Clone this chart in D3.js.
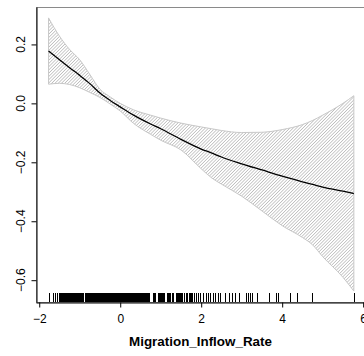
<!DOCTYPE html>
<html>
<head>
<meta charset="utf-8">
<script src="https://cdn.jsdelivr.net/npm/d3@7"></script>
<style>
body{margin:0;background:#fff;}
text{font-family:"Liberation Sans",Arial,Helvetica,sans-serif;}
</style>
</head>
<body>
<script>
// smooth term for Migration_Inflow_Rate: fit and upper/lower bands
var fit_x=[-1.77,-1.5,-1.25,-1.0,-0.75,-0.5,-0.25,0,0.33,0.75,1.0,1.5,2.0,2.25,2.5,3.0,3.5,4.0,4.5,4.75,5.0,5.5,5.77];
var fit_y=[0.178,0.148,0.121,0.095,0.067,0.035,0.010,-0.012,-0.040,-0.070,-0.086,-0.122,-0.155,-0.168,-0.182,-0.205,-0.226,-0.247,-0.266,-0.275,-0.284,-0.298,-0.306];
var upper=[0.290,0.228,0.183,0.148,0.098,0.048,0.022,0.000,-0.022,-0.040,-0.050,-0.067,-0.080,-0.086,-0.092,-0.099,-0.098,-0.089,-0.072,-0.058,-0.040,0.000,0.026];
var lower=[0.065,0.068,0.064,0.053,0.037,0.020,-0.002,-0.026,-0.068,-0.105,-0.125,-0.158,-0.222,-0.252,-0.274,-0.315,-0.365,-0.415,-0.455,-0.480,-0.520,-0.590,-0.637];

// observed values for the rug
var rug_x=[-1.77,-1.65,-1.60,-1.56,
-1.52,-1.50,-1.48,-1.46,-1.44,-1.42,-1.40,-1.38,-1.36,-1.34,-1.32,-1.30,-1.28,-1.26,-1.24,-1.22,-1.20,-1.18,-1.16,-1.14,-1.12,-1.10,-1.08,-1.06,-1.04,-1.02,-1.00,-0.98,-0.96,-0.94,-0.92,
-0.86,-0.84,-0.82,-0.80,-0.78,-0.76,-0.74,-0.72,-0.70,-0.68,-0.66,-0.64,-0.62,-0.60,-0.58,-0.56,-0.54,-0.52,-0.50,-0.48,-0.46,-0.44,-0.42,-0.40,-0.38,-0.36,-0.34,-0.32,-0.30,-0.28,-0.26,-0.24,-0.22,-0.20,-0.18,-0.16,-0.14,-0.12,-0.10,-0.08,-0.06,-0.04,-0.02,0.00,
0.02,0.04,0.06,0.08,0.10,0.12,0.14,0.16,0.18,0.20,0.22,0.24,0.26,0.28,0.30,0.32,0.34,0.36,0.38,0.40,0.42,0.44,0.46,0.48,0.50,0.52,0.54,0.56,0.58,0.60,0.62,0.64,0.66,0.68,0.70,0.72,
0.80,0.82,0.84,0.86,0.93,0.95,0.97,0.99,1.01,1.03,1.05,1.07,1.09,1.16,1.18,1.20,1.22,1.29,1.31,1.37,1.39,1.41,1.43,1.45,1.47,1.49,1.51,1.53,
1.57,1.62,1.65,1.69,1.72,1.75,
1.78,1.83,1.88,1.93,1.98,2.05,2.12,2.17,2.22,2.29,2.35,2.42,2.47,2.59,2.69,2.77,2.84,2.94,
3.11,3.16,3.20,3.26,3.38,3.68,3.85,3.90,4.20,4.37,4.74,5.77];

var x_ticks=[-2,0,2,4,6];
var x_tick_labels=["\u22122","0","2","4","6"];
var y_ticks=[-0.6,-0.4,-0.2,0.0,0.2];
var y_tick_labels=["\u22120.6","\u22120.4","\u22120.2","0.0","0.2"];
var x_title="Migration_Inflow_Rate";

var width=364,height=356;
var left=36,top_=7,right=366,bottom=302;

var svg=d3.select("body").append("svg").attr("width",width).attr("height",height);

var xscale=d3.scaleLinear().domain([-2.08,6.07]).range([left,right]);
var yscale=d3.scaleLinear().domain([-0.674,0.327]).range([bottom,top_]);

var defs=svg.append("defs");
var pat=defs.append("pattern").attr("id","hatch").attr("patternUnits","userSpaceOnUse")
	.attr("width",2.3).attr("height",2.3).attr("patternTransform","rotate(45)");
pat.append("line").attr("x1",1.15).attr("y1",0).attr("x2",1.15).attr("y2",2.3)
	.attr("stroke","#b8b8b8").attr("stroke-width",0.7);

var band=fit_x.map(function(d,i){return {x:d,f:fit_y[i],u:upper[i],l:lower[i]};});

// hatched confidence band
svg.append("path").datum(band)
	.attr("d",d3.area().curve(d3.curveMonotoneX).x(function(d){return xscale(d.x);}).y0(function(d){return yscale(d.l);}).y1(function(d){return yscale(d.u);}))
	.attr("fill","url(#hatch)").attr("stroke","#c8c8c8").attr("stroke-width",1);

// fitted smooth
svg.append("path").datum(band)
	.attr("d",d3.line().curve(d3.curveMonotoneX).x(function(d){return xscale(d.x);}).y(function(d){return yscale(d.f);}))
	.attr("fill","none").attr("stroke","#000").attr("stroke-width",1.3);

// rug
svg.append("g").attr("shape-rendering","crispEdges").selectAll("line").data(rug_x).enter().append("line")
	.attr("x1",function(d){return Math.round(xscale(d))+0.5;}).attr("x2",function(d){return Math.round(xscale(d))+0.5;})
	.attr("y1",bottom).attr("y2",bottom-9)
	.attr("stroke","#000").attr("stroke-width",1);

// box
svg.append("rect").attr("x",left+0.5).attr("y",top_+0.5).attr("width",right-left).attr("height",bottom-top_)
	.attr("fill","none").attr("stroke","#8a8a8a").attr("stroke-width",1);

// axes
var xaxis=d3.axisBottom(xscale).tickValues(x_ticks).tickSize(5).tickSizeOuter(0).tickPadding(6.5)
	.tickFormat(function(d,i){return x_tick_labels[i];});
var gx=svg.append("g").attr("transform","translate(0,"+(bottom+0.5)+")").call(xaxis);
gx.selectAll("text").attr("font-size","12px").attr("font-family",null).attr("fill","#000");
gx.select(".domain").attr("stroke","#000");

var yaxis=d3.axisLeft(yscale).tickValues(y_ticks).tickSize(5).tickSizeOuter(0).tickFormat("");
var gy=svg.append("g").attr("transform","translate("+(left+0.5)+",0)").call(yaxis);
gy.select(".domain").attr("stroke","#000");

svg.append("g").selectAll("text").data(y_ticks).enter().append("text")
	.attr("transform",function(d){return "translate(25,"+yscale(d)+") rotate(-90)";})
	.attr("text-anchor","middle").attr("font-size","12px").attr("fill","#000")
	.text(function(d,i){return y_tick_labels[i];});

svg.append("text").attr("x",200.5).attr("y",346).attr("text-anchor","middle")
	.attr("font-size","13.4px").attr("font-weight","bold").attr("fill","#000").text(x_title);
</script>
</body>
</html>
